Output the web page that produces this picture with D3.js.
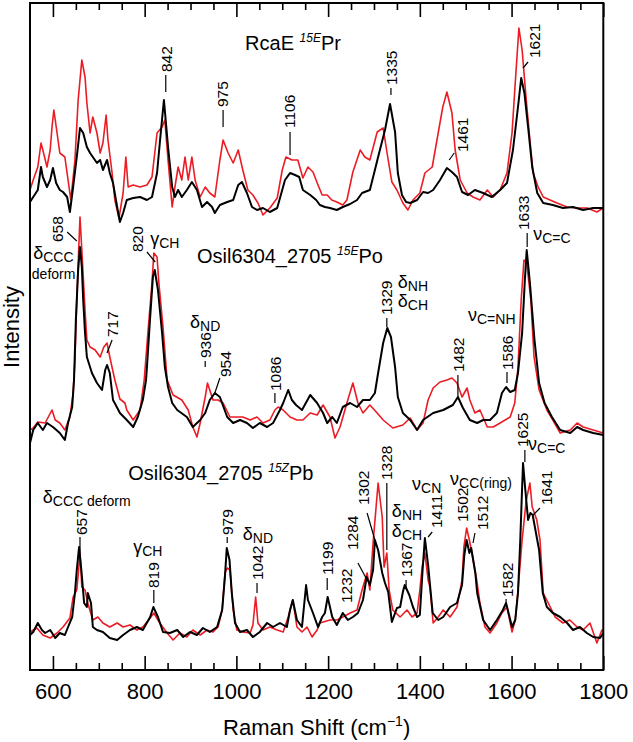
<!DOCTYPE html>
<html><head><meta charset="utf-8">
<script src="https://cdn.jsdelivr.net/npm/d3@7"></script>
<style>body{margin:0;background:#fff}svg{display:block}text{font-family:"Liberation Sans",Arial,Helvetica,sans-serif;fill:#000}</style>
</head><body><svg id="c" width="633" height="742"></svg>
<script>
// ---- data: [Raman shift (cm-1), intensity (arb.)] ----
const topBlack = [[550,468],[557,473],[567,480],[574,503],[578,493],[587,483],[594,490],[600,502],[607,487],[615,480],[622,478],[631,473],[637,458],[644,483],[652,513],[659,542],[666,537],[674,523],[681,517],[687,513],[696,507],[703,510],[709,500],[718,510],[724,497],[731,487],[740,463],[746,448],[753,457],[761,470],[775,472],[790,473],[805,470],[816,473],[827,497],[833,527],[842,570],[851,523],[860,483],[866,473],[873,480],[881,473],[892,480],[903,488],[914,480],[925,463],[936,468],[947,463],[953,457],[964,465],[980,468],[993,470],[1004,485],[1012,488],[1023,477],[1034,463],[1045,460],[1058,462],[1073,458],[1089,462],[1106,490],[1117,497],[1128,495],[1137,493],[1145,480],[1161,475],[1174,470],[1182,465],[1193,463],[1204,462],[1219,460],[1232,463],[1248,466],[1263,470],[1274,477],[1291,480],[1302,500],[1309,513],[1324,540],[1335,566],[1346,538],[1352,497],[1361,475],[1370,468],[1379,467],[1394,470],[1407,478],[1418,477],[1429,480],[1444,490],[1459,502],[1470,498],[1481,493],[1492,478],[1505,475],[1520,480],[1538,477],[1557,473],[1575,480],[1590,487],[1603,520],[1614,563],[1621,592],[1628,577],[1636,543],[1645,503],[1656,477],[1669,467],[1690,465],[1712,462],[1734,463],[1756,460],[1778,462],[1800,462]];
const topRed = [[550,480],[557,490],[567,503],[574,527],[578,520],[587,503],[594,520],[598,543],[602,560],[609,537],[615,517],[626,513],[633,490],[639,470],[648,510],[655,570],[663,610],[670,593],[674,567],[681,537],[687,553],[696,537],[703,517],[709,527],[716,555],[720,530],[729,497],[735,470],[744,452],[753,477],[759,513],[764,483],[775,485],[790,483],[805,485],[816,493],[827,537],[838,543],[844,550],[851,510],[860,463],[866,483],[873,503],[881,490],[888,513],[895,490],[903,513],[910,490],[921,473],[932,483],[942,477],[953,473],[964,510],[971,530],[982,517],[993,507],[1004,520],[1014,500],[1025,480],[1036,475],[1047,467],[1058,455],[1073,462],[1089,472],[1100,500],[1108,513],[1121,510],[1134,510],[1145,492],[1156,503],[1167,498],[1178,485],[1187,475],[1198,475],[1208,470],[1219,468],[1232,465],[1241,470],[1254,498],[1270,520],[1280,513],[1291,510],[1307,538],[1320,542],[1331,510],[1339,488],[1350,480],[1363,467],[1374,460],[1385,470],[1400,477],[1411,497],[1427,503],[1440,537],[1450,563],[1459,578],[1470,557],[1477,520],[1488,490],[1503,477],[1516,473],[1531,470],[1547,480],[1560,473],[1575,480],[1590,497],[1601,537],[1608,587],[1616,642],[1623,620],[1632,570],[1640,530],[1647,497],[1658,483],[1669,473],[1684,470],[1699,467],[1721,463],[1743,462],[1765,462],[1786,458],[1800,462]];
const midBlack = [[550,227],[557,240],[567,247],[578,240],[587,247],[600,243],[615,237],[626,230],[633,247],[642,263],[646,290],[650,350],[655,400],[659,423],[663,403],[666,370],[670,337],[674,313],[685,297],[696,287],[707,280],[714,300],[718,305],[724,297],[731,270],[737,265],[746,257],[761,250],[775,243],[785,253],[796,270],[803,290],[805,303],[812,353],[818,393],[822,400],[829,380],[838,337],[844,303],[851,283],[860,267],[871,260],[892,253],[905,243],[921,250],[932,257],[942,270],[953,277],[964,273],[980,253],[993,247],[1008,250],[1023,247],[1036,242],[1051,247],[1067,243],[1080,247],[1095,260],[1102,267],[1113,280],[1121,270],[1130,265],[1143,260],[1161,275],[1176,267],[1189,257],[1198,247],[1209,253],[1219,247],[1232,263],[1248,267],[1263,263],[1276,270],[1291,270],[1302,277],[1309,297],[1320,327],[1329,342],[1337,333],[1346,303],[1352,273],[1363,257],[1379,250],[1394,240],[1407,250],[1429,257],[1451,260],[1472,265],[1483,273],[1494,262],[1509,250],[1525,247],[1538,250],[1553,250],[1568,257],[1579,277],[1588,283],[1597,278],[1607,280],[1614,297],[1623,337],[1629,390],[1633,420],[1640,387],[1650,330],[1660,287],[1672,267],[1688,253],[1706,240],[1728,237],[1743,243],[1756,240],[1778,237],[1800,235]];
const midRed = [[550,240],[557,242],[567,248],[583,247],[598,260],[605,250],[615,247],[626,240],[637,253],[644,277],[648,310],[652,370],[657,430],[659,453],[663,420],[670,360],[674,330],[681,323],[692,320],[703,313],[711,323],[718,327],[724,313],[735,290],[746,271],[757,267],[761,260],[775,250],[790,260],[799,290],[807,337],[816,387],[820,417],[827,413],[831,387],[840,343],[849,290],[862,275],[881,270],[895,260],[905,243],[914,233],[921,247],[932,273],[937,287],[949,270],[960,270],[971,267],[986,253],[1001,253],[1014,253],[1030,250],[1045,253],[1058,247],[1073,250],[1084,260],[1091,263],[1102,260],[1117,253],[1132,250],[1145,250],[1161,257],[1176,255],[1189,265],[1204,253],[1215,232],[1226,243],[1241,267],[1254,287],[1265,267],[1276,257],[1291,265],[1307,257],[1320,250],[1341,242],[1363,245],[1379,252],[1394,240],[1407,247],[1418,270],[1429,282],[1444,288],[1459,290],[1470,292],[1481,287],[1492,273],[1503,282],[1509,270],[1520,257],[1531,260],[1547,243],[1560,243],[1575,247],[1597,253],[1607,267],[1614,303],[1621,370],[1627,410],[1633,407],[1642,370],[1649,313],[1660,280],[1677,260],[1690,250],[1706,237],[1728,240],[1743,247],[1756,243],[1778,240],[1800,237]];
const botBlack = [[550,35],[557,38],[567,47],[576,40],[583,37],[594,40],[605,32],[615,37],[626,35],[633,43],[642,53],[648,77],[652,100],[657,123],[662,100],[668,67],[674,63],[676,77],[683,67],[687,43],[696,40],[709,38],[724,32],[740,30],[753,35],[768,40],[783,43],[796,40],[812,53],[819,63],[829,53],[840,38],[855,37],[871,40],[884,33],[899,38],[914,35],[927,42],[942,38],[958,43],[969,60],[975,93],[979,122],[985,110],[990,77],[997,47],[1008,38],[1023,40],[1036,33],[1051,38],[1067,47],[1080,43],[1095,47],[1110,43],[1117,60],[1123,70],[1132,50],[1143,43],[1152,85],[1156,70],[1167,57],[1178,43],[1187,53],[1193,57],[1199,73],[1209,53],[1219,45],[1232,57],[1243,50],[1254,53],[1265,57],[1276,70],[1284,93],[1291,85],[1298,100],[1302,130],[1309,120],[1318,97],[1324,87],[1331,78],[1339,48],[1350,62],[1357,63],[1363,78],[1367,85],[1377,75],[1385,63],[1394,53],[1400,55],[1406,100],[1411,132],[1418,105],[1428,57],[1440,50],[1451,53],[1466,63],[1481,67],[1492,85],[1497,115],[1502,130],[1508,117],[1512,122],[1521,97],[1525,77],[1538,50],[1553,40],[1568,50],[1581,60],[1588,67],[1601,43],[1608,50],[1614,77],[1619,130],[1622,170],[1625,207],[1630,180],[1636,150],[1641,157],[1646,155],[1652,140],[1660,120],[1668,77],[1677,63],[1690,57],[1706,53],[1721,47],[1734,40],[1749,43],[1764,37],[1778,33],[1793,32],[1800,37]];
const botRed = [[550,38],[565,42],[578,35],[594,32],[609,37],[622,43],[637,52],[644,73],[652,80],[656,100],[659,117],[663,83],[670,80],[676,67],[687,50],[698,53],[709,47],[724,43],[740,47],[753,43],[768,45],[783,40],[796,43],[812,52],[820,57],[833,47],[849,37],[862,30],[877,37],[892,33],[905,40],[921,35],[936,40],[949,38],[960,43],[969,60],[975,97],[980,102],[986,100],[993,60],[1001,40],[1014,38],[1030,37],[1036,45],[1042,73],[1047,47],[1058,40],[1073,43],[1089,40],[1102,38],[1113,53],[1123,70],[1132,43],[1143,38],[1154,43],[1165,33],[1176,40],[1182,47],[1204,50],[1219,50],[1232,53],[1248,57],[1263,60],[1274,80],[1285,97],[1291,80],[1298,127],[1309,187],[1318,153],[1322,103],[1328,117],[1333,80],[1341,60],[1357,53],[1372,60],[1383,53],[1394,57],[1400,80],[1405,103],[1411,117],[1418,90],[1422,83],[1429,47],[1440,53],[1451,60],[1466,53],[1481,63],[1492,90],[1496,123],[1502,142],[1508,130],[1515,113],[1524,90],[1531,67],[1542,43],[1553,37],[1568,47],[1579,57],[1590,63],[1601,38],[1608,50],[1614,80],[1623,130],[1632,170],[1640,187],[1645,163],[1655,150],[1662,130],[1669,77],[1680,67],[1695,53],[1712,47],[1727,50],[1743,43],[1756,40],[1771,47],[1786,27],[1797,40],[1800,38]];

const majorTicks = [600, 800, 1000, 1200, 1400, 1600, 1800];
const minorTicks = [650,700,750,850,900,950,1050,1100,1150,1250,1300,1350,1450,1500,1550,1650,1700,1750];

// rotated peak labels: [text, shift, intensity at text start]
const peakLabels = [["842",847,598],["975",970,563],["1106",1115,542],["1335",1337,585],["1461",1492,518],["1621",1649,612],
 ["658",609,428],["820",785,418],["717",729,333],["936",932,312],["954",977,293],["1086",1084,279],["1329",1328,355],["1482",1485,298],["1586",1590,300],["1633",1625,440],
 ["657",661,135],["819",820,82],["979",980,135],["1042",1045,90],["1199",1198,95],["1232",1239,67],["1284",1252,120],["1302",1276,165],["1328",1328,190],["1367",1370,93],["1411",1437,142],["1502",1492,148],["1512",1536,140],["1582",1592,73],["1625",1623,223],["1641",1677,165]];
// leader lines: [shift1, int1, shift2, int2]
const leaders = [[846,595,846,578],[971,560,971,543],[1117,538,1117,515],[1337,582,1337,575],[1475,517,1464,510],[1636,608,1625,602],
 [631,438,652,429],[805,418,823,408],[729,330,718,317],[932,309,932,303],[964,292,953,277],[1084,277,1084,267],[1328,352,1328,343],[1483,295,1483,273],[1590,298,1590,287],[1634,437,1634,423],
 [659,133,659,117],[820,80,820,67],[980,133,980,127],[1045,87,1045,77],[1198,92,1198,80],[1265,107,1285,90],[1285,157,1302,130],[1328,187,1328,120],[1370,90,1370,82],[1427,138,1418,133],[1520,137,1516,127],[1588,71,1588,64],[1629,220,1629,208],[1662,162,1647,155]];
// band assignments: [symbol, subscript, shift, intensity of baseline]
const bandLabels = [["δ","CCC",557,411],["γ","CH",812,425],["δ","ND",899,342],["δ","NH",1352,382],["δ","CH",1352,363],["ν","C=NH",1505,349],["ν","C=C",1647,430],
 ["δ","CCC deform",578,167],["γ","CH",775,117],["δ","ND",1014,130],["δ","NH",1339,153],["δ","CH",1339,133],["ν","CN",1383,180],["ν","CC(ring)",1466,185],["ν","C=C",1636,220]];
const extraText = [["deform",554,391]];
const titles = [["RcaE","15E","Pr",1019,620],["Osil6304_2705","15E","Po",914,407],["Osil6304_2705","15Z","Pb",764,190]];

const RED = "#ec1c24";
const svg = d3.select("#c");
const x = d3.scaleLinear().domain([550, 1800]).range([30, 603.3]);
const y = d3.scaleLinear().domain([0, 667]).range([670, 3]);
const line = d3.line().x(d => x(d[0])).y(d => y(d[1]));

const series = [
  {d: topRed, c: RED, w: 1.6}, {d: midRed, c: RED, w: 1.6}, {d: botRed, c: RED, w: 1.6},
  {d: topBlack, c: "#000", w: 2}, {d: midBlack, c: "#000", w: 2}, {d: botBlack, c: "#000", w: 2}
];
svg.append("g").selectAll("path").data(series).join("path")
  .attr("d", s => line(s.d)).attr("fill", "none")
  .attr("stroke", s => s.c).attr("stroke-width", s => s.w).attr("stroke-linejoin", "round");

// frame
svg.append("rect").attr("x", x(550)).attr("y", y(667)).attr("width", x(1800) - x(550)).attr("height", y(0) - y(667))
  .attr("fill", "none").attr("stroke", "#000").attr("stroke-width", 2);

// axes (inward ticks)
const bMaj = svg.append("g").attr("transform", `translate(0,${y(0)})`)
  .call(d3.axisBottom(x).tickValues(majorTicks).tickSize(-14).tickPadding(13).tickFormat(d3.format("d")));
const bMin = svg.append("g").attr("transform", `translate(0,${y(0)})`)
  .call(d3.axisBottom(x).tickValues(minorTicks).tickSize(-7).tickFormat(""));
const tMaj = svg.append("g").attr("transform", `translate(0,${y(667)})`)
  .call(d3.axisTop(x).tickValues(majorTicks).tickSize(-14).tickFormat(""));
const tMin = svg.append("g").attr("transform", `translate(0,${y(667)})`)
  .call(d3.axisTop(x).tickValues(minorTicks).tickSize(-7).tickFormat(""));
[bMaj, bMin, tMaj, tMin].forEach(g => {
  g.select(".domain").remove();
  g.selectAll(".tick line").attr("stroke", "#000").attr("stroke-width", 1.6);
});
bMaj.selectAll(".tick text").attr("font-size", 22).attr("font-family", "Liberation Sans, Arial, sans-serif").attr("fill", "#000");

// axis titles
const xt = svg.append("text").attr("x", (x(550) + x(1800)) / 2).attr("y", 735).attr("text-anchor", "middle").attr("font-size", 22);
xt.append("tspan").text("Raman Shift (cm");
xt.append("tspan").attr("font-size", 14).attr("dy", -9).text("\u22121");
xt.append("tspan").attr("dy", 9).text(")");
svg.append("text").attr("transform", `translate(19,${y(343)}) rotate(-90)`).attr("text-anchor", "middle").attr("font-size", 22).text("Intensity");

// peak labels
svg.append("g").selectAll("text").data(peakLabels).join("text")
  .attr("transform", d => `translate(${x(d[1])},${y(d[2])}) rotate(-90)`)
  .attr("dy", "0.36em").attr("font-size", 15.5).text(d => d[0]);
svg.append("g").selectAll("line").data(leaders).join("line")
  .attr("x1", d => x(d[0])).attr("y1", d => y(d[1])).attr("x2", d => x(d[2])).attr("y2", d => y(d[3]))
  .attr("stroke", "#000").attr("stroke-width", 1.2);

// band assignment labels
const bl = svg.append("g").selectAll("text").data(bandLabels).join("text")
  .attr("x", d => x(d[2])).attr("y", d => y(d[3])).attr("font-size", 18);
bl.append("tspan").text(d => d[0]);
bl.append("tspan").attr("font-size", 14).attr("dy", 3).text(d => d[1]);
svg.append("g").selectAll("text").data(extraText).join("text")
  .attr("x", d => x(d[1])).attr("y", d => y(d[2])).attr("font-size", 14).text(d => d[0]);

// spectrum titles
const tt = svg.append("g").selectAll("text").data(titles).join("text")
  .attr("x", d => x(d[3])).attr("y", d => y(d[4])).attr("font-size", 20);
tt.append("tspan").text(d => d[0] + " ");
tt.append("tspan").attr("font-size", 12).attr("font-style", "italic").attr("dy", -8).text(d => d[1]);
tt.append("tspan").attr("dy", 8).text(d => d[2]);
</script></body></html>
